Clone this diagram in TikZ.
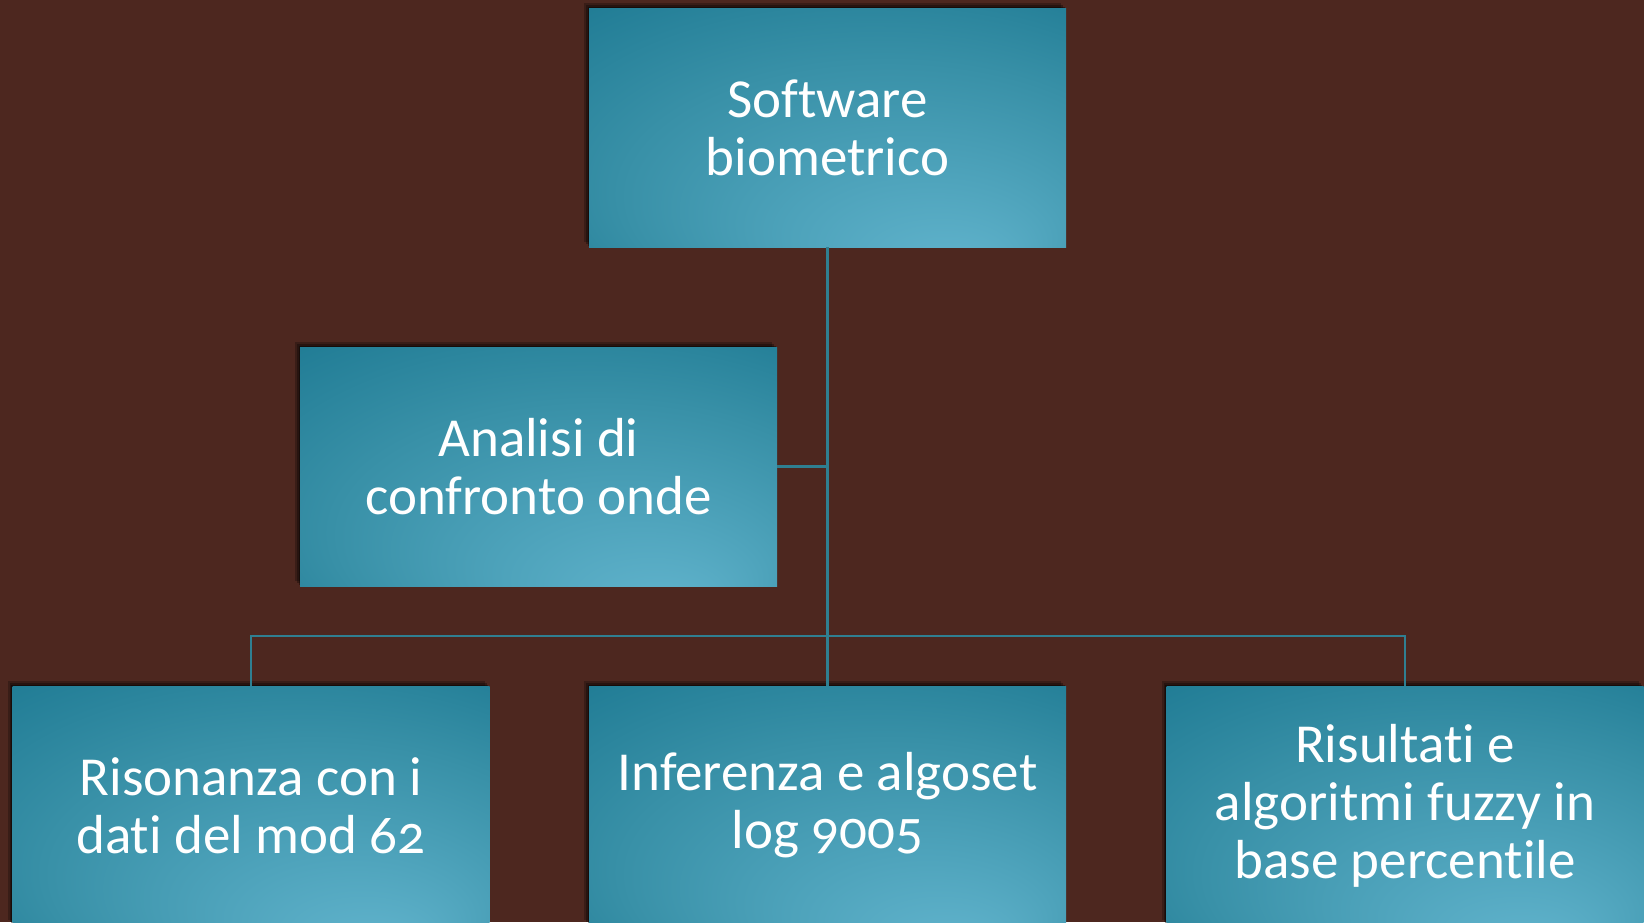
\documentclass[tikz,border=0pt]{standalone}
\usepackage{fontspec}
\setmainfont{Carlito}[Numbers=OldStyle,RawFeature={-liga;-clig;-calt;-dlig}]
\definecolor{bgC}{HTML}{4D271F}
\definecolor{lightT}{HTML}{5EB1CA}
\definecolor{midT}{HTML}{3890A7}
\definecolor{darkT}{HTML}{12708A}
\definecolor{lineC}{HTML}{2F7F91}
\pgfdeclareradialshading{boxshade}{\pgfpoint{14bp}{-32bp}}{color(0bp)=(lightT); color(3bp)=(lightT); color(28bp)=(midT); color(50bp)=(darkT)}
\tikzset{
  box/.style={shading=boxshade, minimum width=477pt, minimum height=239pt,
    inner sep=0pt, text=white, align=center, font=\fontsize{55}{58}\selectfont,
    preaction={fill=black, opacity=0.25, transform canvas={shift={(-5pt,5pt)}}},
    preaction={fill=black, opacity=0.3, transform canvas={shift={(-3pt,3pt)}}},
    preaction={fill=black, opacity=0.4, transform canvas={shift={(-1.5pt,1.5pt)}}}},
  conn/.style={draw=lineC, line width=2.2pt}
}
\begin{document}
\begin{tikzpicture}[x=1pt,y=-1pt]
\useasboundingbox (0,0) rectangle (1644,922);
\fill[bgC] (0,0) rectangle (1644,922);
\coordinate (bus) at (827.5,636);
\begin{scope}
\clip (0,0) rectangle (1644,922);
\node[box] (top) at (827.5,127.5) {Software\\biometrico};
\node[box] (mid) at (538.5,466.5) {Analisi di\\confronto onde};
\node[box] (bl) at (251,805.5) {Risonanza con i\\dati del mod 62};
\node[box] (bm) at (827.5,805.5) {Inferenza e algoset\\log 9005};
\node[box] (br) at (1405,805.5) {Risultati e\\algoritmi fuzzy in\\base percentile};
\end{scope}
\draw[conn] (top.south) -- (bm.north);
\draw[conn] (mid.east) -- (top.south |- mid.east);
\draw[conn] (bl.north) |- (bus) -| (br.north);
\end{tikzpicture}
\end{document}
